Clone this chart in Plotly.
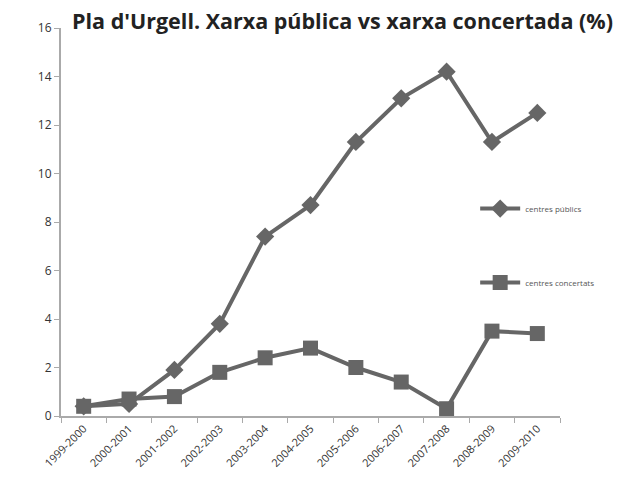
import plotly.graph_objects as go

categories = ["1999-2000", "2000-2001", "2001-2002", "2002-2003", "2003-2004",
              "2004-2005", "2005-2006", "2006-2007", "2007-2008", "2008-2009", "2009-2010"]
publics = [0.4, 0.5, 1.9, 3.8, 7.4, 8.7, 11.3, 13.1, 14.2, 11.3, 12.5]
concertats = [0.4, 0.7, 0.8, 1.8, 2.4, 2.8, 2.0, 1.4, 0.3, 3.5, 3.4]
y_ticks = [0, 2, 4, 6, 8, 10, 12, 14, 16]

col = "#666666"
fig = go.Figure()
fig.add_trace(go.Scatter(x=categories, y=publics, name="centres públics", mode="lines+markers",
                         line=dict(color=col, width=4), marker=dict(symbol="diamond", size=14, color=col),
                         legendgroup="a"))
fig.add_trace(go.Scatter(x=categories, y=concertats, name="centres concertats", mode="lines+markers",
                         line=dict(color=col, width=4), marker=dict(symbol="square", size=15, color=col),
                         legendgroup="b"))

fig.update_layout(
    width=644, height=493,
    margin=dict(l=53, r=92, t=20, b=85),
    plot_bgcolor="white", paper_bgcolor="white",
    title=dict(text="<b>Pla d'Urgell. Xarxa pública vs xarxa concertada (%)</b>",
               x=64 / 644, xanchor="left", xref="container", y=1 - 13 / 493, yref="container",
               yanchor="middle", pad=dict(l=0, r=0, t=0, b=0),
               font=dict(family="Open Sans", size=21.5, color="#222")),
    showlegend=True,
    legend=dict(x=0.83, y=0.572, xanchor="left", yanchor="top", tracegroupgap=55,
                font=dict(family="Open Sans", size=8, color="#555"), bgcolor="rgba(0,0,0,0)",
                itemwidth=40),
    xaxis=dict(type="category", tickson="boundaries", showline=True, linecolor="#aaa", linewidth=2,
               ticks="outside", ticklen=5, tickcolor="#aaa", tickangle=-45, showgrid=False,
               tickfont=dict(family="Open Sans", size=11, color="#333"), range=[-0.5, 10.5]),
    yaxis=dict(range=[0, 16], tickvals=y_ticks, showline=True, linecolor="#aaa", linewidth=2,
               ticks="outside", ticklen=5, tickcolor="#aaa", showgrid=False, zeroline=False,
               tickfont=dict(family="Open Sans", size=12, color="#333")),
)
fig.write_html("out.html")
